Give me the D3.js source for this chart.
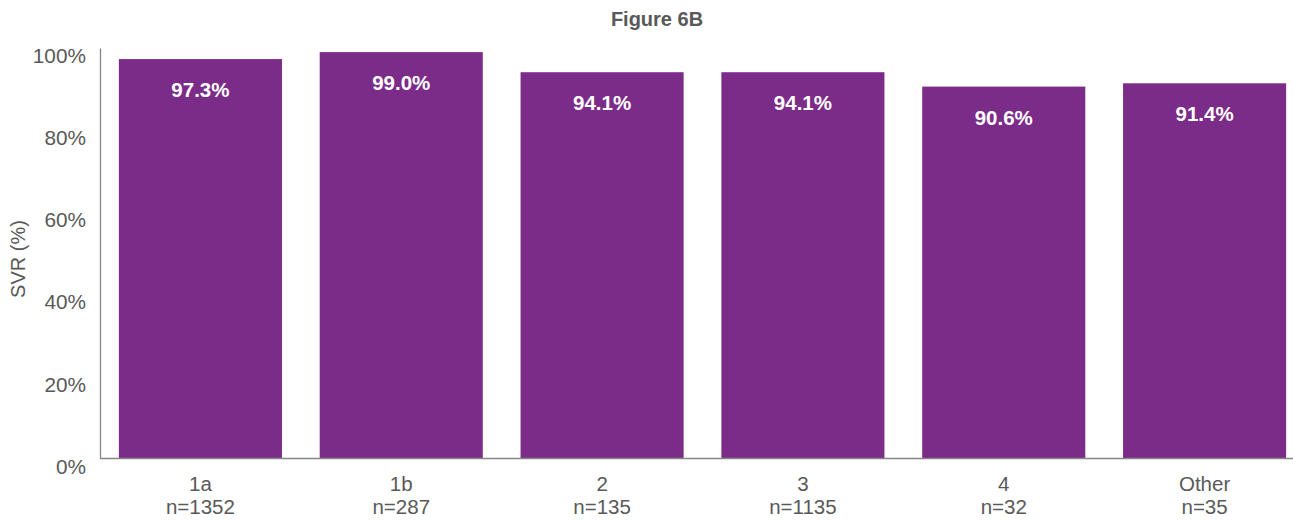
<!DOCTYPE html>
<html><head><meta charset="utf-8">
<script src="https://cdn.jsdelivr.net/npm/d3@7"></script>
<style>body{margin:0;background:#fff;}svg{display:block;font-family:"Liberation Sans",Arial,sans-serif;}</style>
</head><body><svg id="c" width="1293" height="521"></svg>
<script>
const categories = ["1a","1b","2","3","4","Other"];
const sampleSizes = ["n=1352","n=287","n=135","n=1135","n=32","n=35"];
const svrValues = [97.3, 99.0, 94.1, 94.1, 90.6, 91.4];
const valueLabels = ["97.3%","99.0%","94.1%","94.1%","90.6%","91.4%"];
const yTicks = [0,20,40,60,80,100];

const svg = d3.select("#c");
const x = d3.scaleBand().domain(categories).range([100,1305]).paddingInner(0.188).paddingOuter(0.094);
const y = d3.scaleLinear().domain([0,100]).range([458.5,48]);
const gray = "#595959";

svg.append("text").attr("x",657).attr("y",26).attr("text-anchor","middle")
  .attr("font-size",20).attr("font-weight","bold").attr("fill",gray).text("Figure 6B");

svg.append("text").attr("transform","translate(25,259) rotate(-90)").attr("text-anchor","middle")
  .attr("font-size",20).attr("fill",gray).text("SVR (%)");

svg.selectAll("rect.bar").data(svrValues).join("rect").attr("class","bar")
  .attr("x",(d,i)=>x(categories[i])).attr("width",x.bandwidth())
  .attr("y",d=>y(d)).attr("height",d=>y(0)-y(d)).attr("fill","#7B2C88");

svg.selectAll("text.val").data(svrValues).join("text").attr("class","val")
  .attr("x",(d,i)=>x(categories[i])+x.bandwidth()/2).attr("y",d=>y(d)+38)
  .attr("text-anchor","middle").attr("font-size",20.5).attr("font-weight","bold").attr("fill","#fff")
  .text((d,i)=>valueLabels[i]);

// y axis
const yAxis = d3.axisLeft(y).tickValues(yTicks).tickFormat(d=>d+"%").tickSize(0).tickPadding(14);
const gy = svg.append("g").attr("transform","translate(100,0)").call(yAxis);
gy.select(".domain").attr("stroke","#868686").attr("stroke-width",1.3);
gy.selectAll("text").attr("font-size",20.8).attr("fill",gray).attr("font-family","Liberation Sans, Arial, sans-serif").attr("dy","0.85em").attr("transform","translate(0,-3)");

// x axis
svg.append("line").attr("x1",100).attr("x2",1293).attr("y1",y(0)).attr("y2",y(0)).attr("stroke","#868686").attr("stroke-width",1.3);
const xl = svg.append("g");
categories.forEach((c,i)=>{
  const cx = x(c)+x.bandwidth()/2;
  xl.append("text").attr("x",cx).attr("y",491).attr("text-anchor","middle").attr("font-size",20.5).attr("fill",gray).text(c);
  xl.append("text").attr("x",cx).attr("y",514).attr("text-anchor","middle").attr("font-size",20.5).attr("fill",gray).text(sampleSizes[i]);
});
</script></body></html>
